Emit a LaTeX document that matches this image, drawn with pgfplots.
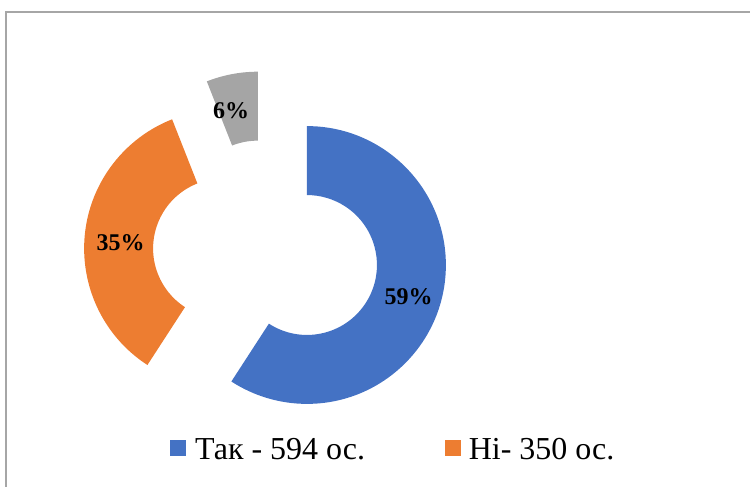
\documentclass[border=0pt]{standalone}
\usepackage{pgfplots}
\pgfplotsset{compat=1.18}
\usepackage{fontspec}
\setmainfont{Liberation Serif}
\definecolor{tblue}{HTML}{4472C4}
\definecolor{torange}{HTML}{ED7D31}
\definecolor{tgray}{HTML}{A5A5A5}
\definecolor{frame}{HTML}{A6A6A6}

% donut segment: colour, start angle, end angle, label, label nudge
\newcommand\donutseg[5]{%
  \pgfmathsetmacro\segmid{(#2+#3)/2}%
  \begin{scope}[shift={(axis cs:266,234)}, shift={(\segmid:43pt)}]
    \fill[#1] (#2:139pt) arc[start angle=#2, end angle=#3, radius=139pt]
      -- (#3:70pt) arc[start angle=#3, end angle=#2, radius=70pt] -- cycle;
    \node[font=\bfseries\fontsize{24}{28}\selectfont, inner sep=0] at ([shift={#5}]\segmid:105pt) {#4};
  \end{scope}%
}

\begin{document}
\begin{tikzpicture}
\def\vA{594}\def\vB{350}\def\vC{60}
\pgfmathsetmacro\tot{\vA+\vB+\vC}
\pgfmathsetmacro\sA{90}
\pgfmathsetmacro\eA{\sA-360*(\vA/\tot)}
\pgfmathsetmacro\eB{\eA-360*(\vB/\tot)}
\pgfmathsetmacro\eC{\eB-360*(\vC/\tot)}
\begin{axis}[hide axis, x=1pt, y=1pt, xmin=0, xmax=751, ymin=0, ymax=487, clip=false]
  \pgfplotsextra{%
    \path (axis cs:0,0) rectangle (axis cs:751,487);
    \draw[frame, line width=1.2pt] (axis cs:6,0) -- (axis cs:6,475) -- (axis cs:751,475);
    \donutseg{tblue}{\sA}{\eA}{59\%}{(1pt,-2pt)}
    \donutseg{torange}{\eA}{\eB}{35\%}{(2pt,-5pt)}
    \donutseg{tgray}{\eB}{\eC}{6\%}{(-7pt,-3pt)}
    \fill[tblue] (axis cs:170,31) rectangle (axis cs:186,47);
    \node[anchor=base west, inner sep=0, font=\fontsize{32}{38}\selectfont] at (axis cs:195,27) {Так - 594 ос.};
    \fill[torange] (axis cs:445,31) rectangle (axis cs:461,47);
    \node[anchor=base west, inner sep=0, font=\fontsize{32}{38}\selectfont] at (axis cs:469,27) {Ні- 350 ос.};
  }
\end{axis}
\end{tikzpicture}
\end{document}
